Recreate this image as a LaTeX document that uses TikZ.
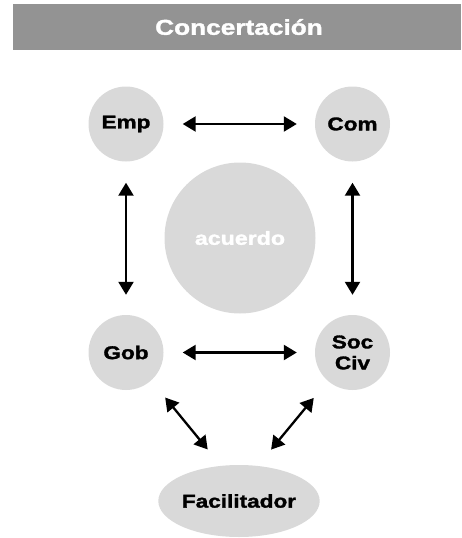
\documentclass[tikz,border=0pt]{standalone}
\usepackage{fontspec}
\setmainfont{Liberation Sans}[FakeStretch=1.22]
\newfontfamily\heavyfont{Liberation Sans}[FakeStretch=1.22, BoldFeatures={FakeBold=1.6}]
\usetikzlibrary{arrows.meta,shapes.geometric}
\definecolor{barGray}{HTML}{939393}
\definecolor{discGray}{HTML}{D9D9D9}
\tikzset{
  actor/.style={circle, fill=discGray, minimum size=75pt, inner sep=0pt,
    font=\heavyfont\fontsize{18.5}{21}\selectfont\bfseries, align=center, text=black},
  link/.style={line width=2.3pt, {Triangle[length=13pt,width=15pt]}-{Triangle[length=13pt,width=15pt]}},
}
\begin{document}
\begin{tikzpicture}[x=1pt,y=-1pt]
  \useasboundingbox (0,0) rectangle (461,538);
  % title bar
  \fill[barGray] (13,4) rectangle (461,50);
  \node[font=\heavyfont\fontsize{21.5}{24}\selectfont\bfseries, text=white] (title) at (239,27) {Concertación};

  % central agreement disc
  \node[circle, fill=discGray, minimum size=151pt, inner sep=0pt,
        font=\heavyfont\fontsize{19}{22}\selectfont\bfseries, text=white] (acuerdo) at (240,238) {acuerdo};

  % the four actors
  \node[actor] (emp) at (126,124) {Emp};
  \node[actor] (com) at (352.5,124) {Com};
  \node[actor] (gob) at (126,352.5) {Gob};
  \node[actor] (soc) at (352.5,352.5) {Soc\\Civ};

  % facilitator
  \node[ellipse, fill=discGray, minimum width=152pt, minimum height=72pt, inner sep=0pt,
        font=\heavyfont\fontsize{18.5}{22}\selectfont\bfseries] (fac) at (239,501) {Facilitador};

  % relations
  \draw[link, shorten <=19pt, shorten >=18pt] (emp) -- (com);
  \draw[link, shorten <=19pt, shorten >=18pt] (gob) -- (soc);
  \draw[link, shorten <=21pt, shorten >=20pt] (emp) -- (gob);
  \draw[link, shorten <=21pt, shorten >=20pt] (com) -- (soc);
  \draw[link, shorten <=22pt, shorten >=21pt] (gob.-48.5) -- (fac.117.6);
  \draw[link, shorten <=22pt, shorten >=21pt] (soc.-131.5) -- (fac.62.4);
\end{tikzpicture}
\end{document}
